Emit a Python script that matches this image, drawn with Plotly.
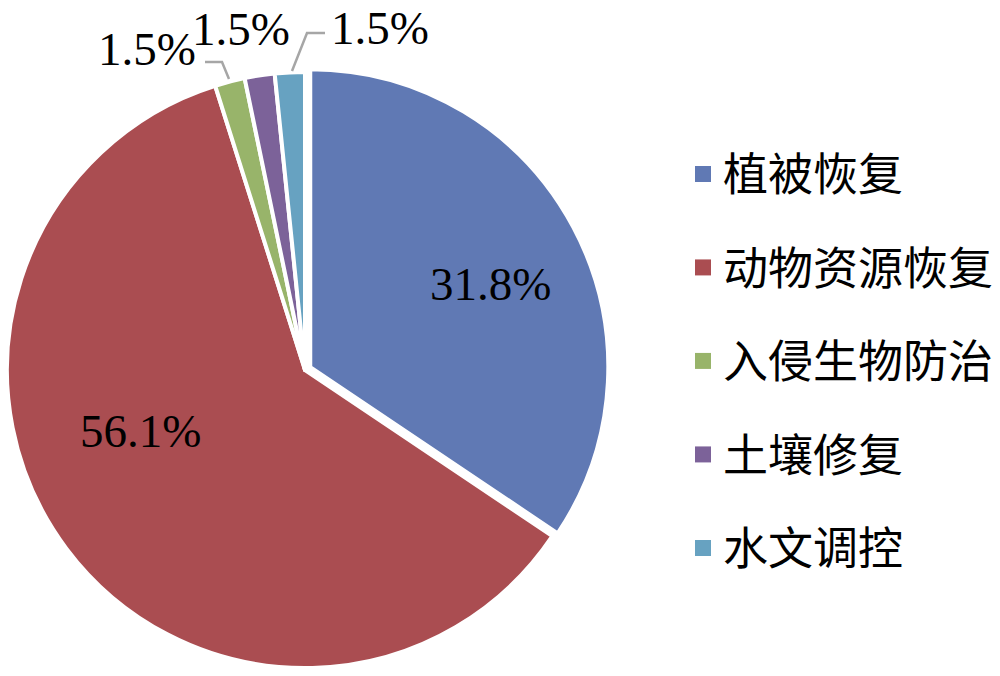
import plotly.graph_objects as go

categories = ["植被恢复", "动物资源恢复", "入侵生物防治", "土壤修复", "水文调控"]
values = [31.8, 56.1, 1.5, 1.5, 1.5]
label_text = ["31.8%", "56.1%", "1.5%", "1.5%", "1.5%"]
colors = ["#6079B4", "#AA4D51", "#98B46A", "#7C6299", "#67A2C1"]
pulls = [0.02, 0, 0, 0, 0]

W, H = 1000, 676

# label placement (pixels from top-left of the figure) — layout only
label_pos_px = [(490, 284), (140, 431), (147, 49), (241, 29), (380, 28)]
leader_paths_px = [None, None, [(205, 62), (222, 62), (229, 79)], None,
                   [(325, 33), (307, 33), (292, 71)]]


def px(x, y):
    return x / W, 1 - y / H


fig = go.Figure()

fig.add_trace(go.Pie(
    labels=categories,
    values=values,
    textinfo="none",
    sort=False,
    direction="clockwise",
    rotation=0,
    pull=pulls,
    marker=dict(colors=colors, line=dict(color="white", width=4)),
    domain=dict(x=[0.001, 0.609], y=[0.003, 0.9024]),
    showlegend=False,
    hoverinfo="label+percent",
))

# legend entries
for c, col in zip(categories, colors):
    fig.add_trace(go.Scatter(
        x=[None], y=[None], mode="markers", name=c, legendgroup=c,
        marker=dict(symbol="square", size=16, color=col, line=dict(width=0)),
        showlegend=True,
    ))

annotations = []
shapes = []
for t, (lx, ly), path in zip(label_text, label_pos_px, leader_paths_px):
    ax_, ay_ = px(lx, ly)
    annotations.append(dict(
        text=t, x=ax_, y=ay_, xref="paper", yref="paper",
        xanchor="center", yanchor="middle", showarrow=False,
        font=dict(family="Liberation Serif", size=47, color="black"),
    ))
    if path:
        pts = [px(x, y) for x, y in path]
        d = "M " + " L ".join("%.4f,%.4f" % p for p in pts)
        shapes.append(dict(type="path", path=d, xref="paper", yref="paper",
                           line=dict(color="#A6A6A6", width=2.5)))

fig.update_layout(
    width=W, height=H,
    margin=dict(l=0, r=0, t=0, b=0),
    paper_bgcolor="white",
    plot_bgcolor="white",
    xaxis=dict(visible=False),
    yaxis=dict(visible=False),
    annotations=annotations,
    shapes=shapes,
    legend=dict(
        x=0.683, y=0.7956, xanchor="left", yanchor="top",
        font=dict(family="Noto Sans CJK SC", size=45, color="black"),
        tracegroupgap=32,
        itemwidth=30,
        bgcolor="rgba(0,0,0,0)",
    ),
)

fig.write_html(
    "out.html",
    config={"displayModeBar": False},
    post_script="document.body.style.margin='0';document.body.style.padding='0';",
)
